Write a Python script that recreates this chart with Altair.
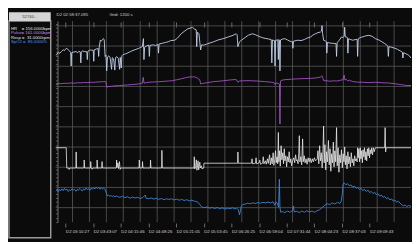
import altair as alt
import pandas as pd

# ---------------- data ----------------
START_SEC = 10717.095            # D2 02:58:37.095 (seconds of day)
START_LABEL = "D2 02:58:37.095"
GRID_LABEL = "Grid: 1200 s"
WINDOW_MIN = 420                 # 7 hour window, in minutes

tick_labels = ["03:10:27", "03:43:07", "04:15:46", "04:48:26", "05:21:05", "05:53:45",
               "06:26:25", "06:59:04", "07:31:44", "08:04:23", "08:37:03", "09:09:43"]
grid_minutes = list(range(20, 420, 20))   # grid every 1200 s
grid_rows = list(range(10))

panel_id = "52740..."
legend_names = ["HR", "Pulse", "Resp", "SpO2"]
legend_texts = ["HR\u00a0\u00a0\u00a0\u00a0=\u00a0156.0000bpm",
                "Pulse=\u00a0161.0000bpm",
                "Resp\u00a0=\u00a0\u00a031.0000rpm",
                "SpO2\u00a0=\u00a0\u00a086.0000%"]
legend_colors = ["#e4e4e4", "#c58af0", "#e4e4e4", "#4f94e6"]

# (minutes since start, bpm)
hr_points = [
    (0, 157.0), (1.2, 157.4), (3.5, 159.5), (5, 158.5), (6.9, 160.0), (9, 161.5), (10.5, 160.8),
    (12.6, 162.7), (14.5, 161.8), (16.5, 160.5), (17.8, 159.2), (18.4, 148.1), (19.0, 159.0),
    (21, 159.5), (24.1, 160.0), (26, 159.0), (27.5, 160.2), (29.2, 159.6), (29.8, 150.7),
    (30.4, 159.8), (32, 160.5), (33.7, 160.0), (36.9, 159.8), (37.5, 153.4), (38.1, 160.2),
    (40, 161.0), (41.3, 161.3), (44.5, 161.0), (45.1, 152.0), (45.7, 161.5), (48, 162.0),
    (50.3, 162.5), (50.9, 156.0), (51.5, 163.0), (52.8, 169.3), (54, 168.5), (55.5, 170.0),
    (56.6, 170.6), (57.5, 169.5), (58.5, 156.0), (59.5, 157.0), (60.4, 144.1), (61.3, 155.5),
    (63, 156.5), (64.5, 154.8), (66.2, 145.4), (67, 155.0), (68.5, 154.0), (70.0, 144.8),
    (70.8, 155.0), (72.5, 155.8), (74, 154.5), (75.7, 145.4), (76.4, 155.2), (77.6, 146.5),
    (78.3, 156.5), (79.6, 157.4), (83, 158.2), (87.2, 159.5), (90, 160.5), (94.9, 161.8),
    (98, 162.5), (100, 163.3), (102.5, 164.0), (103.8, 170.6), (104.4, 153.4), (105.2, 163.5),
    (107, 164.5), (110.2, 165.3), (110.8, 156.0), (111.5, 165.0), (115, 165.5), (118, 165.0),
    (121.0, 165.8), (121.6, 158.7), (122.3, 166.2), (126, 166.8), (130, 167.5), (133.1, 168.0),
    (136, 169.0), (140.8, 169.3), (144, 171.0), (148.4, 174.6), (152, 176.5), (156.1, 178.6),
    (159, 179.2), (161.8, 179.9), (163.7, 178.6), (166.2, 177.8), (166.8, 164.0), (167.5, 176.0),
    (169.4, 174.6), (170.8, 165.3), (171.4, 161.3), (172.5, 165.5), (175.2, 165.3), (180, 166.5),
    (186.7, 168.0), (192, 169.5), (198.1, 170.6), (204, 172.0), (209.6, 173.3), (213.4, 174.6),
    (214.5, 173.8), (215.4, 164.0), (217.3, 168.0), (220, 169.5), (224.9, 172.0), (228, 173.5),
    (232.6, 174.6), (236, 173.8), (240.2, 172.5), (245, 171.2), (251.7, 170.3), (254.8, 169.8),
    (255.5, 150.7), (256.3, 169.5), (258.7, 169.0), (259.3, 148.1), (260.0, 169.2), (262.6, 169.6),
    (263.2, 153.4), (263.9, 169.8), (264.6, 168.8), (265.1, 144.1), (265.8, 169.5), (268, 170.2),
    (270.8, 170.6), (274, 169.5), (278.5, 168.0), (279.8, 168.3), (280.4, 162.7), (281.1, 168.5),
    (286.1, 169.3), (290, 169.0), (293.8, 169.8), (297, 171.0), (301.4, 172.0), (304, 173.5),
    (307.1, 174.6), (310, 175.5), (312.9, 176.0), (314.2, 176.8), (314.8, 181.3), (315.5, 175.0),
    (316.7, 169.3), (318.5, 168.8), (320.0, 168.0), (320.5, 158.7), (321.2, 167.5), (324, 167.0),
    (328.2, 166.7), (331.4, 166.5), (332.0, 156.0), (332.7, 167.5), (335, 169.0), (337.8, 172.0),
    (339.5, 171.5), (341.0, 172.5), (341.6, 179.9), (342.3, 172.0), (343.5, 172.0), (344.8, 171.5),
    (345.4, 158.7), (346.1, 170.5), (348, 170.0), (351.1, 169.3), (354, 169.8), (356.3, 170.0),
    (356.9, 156.0), (357.6, 170.5), (360, 171.5), (362.6, 172.0), (366, 172.8), (370.3, 173.3),
    (374, 172.5), (377.9, 170.6), (382, 169.5), (385.6, 168.0), (389, 166.5), (392.6, 164.5),
    (393.2, 156.0), (393.9, 164.0), (397, 163.5), (400.9, 162.7), (404, 161.8), (408.5, 160.0),
    (409.8, 159.5), (410.4, 154.7), (411.1, 159.0), (413, 158.5), (416.2, 157.4), (418, 156.5),
    (420, 154.7),
]

# (minutes since start, bpm)
pulse_points = [
    (0, 163.4), (3, 163.8), (6.9, 163.6), (10, 164.0), (14, 163.9), (18.4, 164.2), (22, 164.0),
    (26, 164.4), (29.8, 164.3), (34, 164.6), (38, 164.5), (41.3, 164.8), (45, 164.7), (49, 165.0),
    (52.8, 165.1), (56.6, 165.3), (58.5, 165.4), (59.5, 165.0), (60.4, 160.8), (62, 161.2),
    (66.2, 161.5), (70, 161.8), (75.7, 162.1), (80, 162.3), (85, 162.6), (90, 162.9), (95, 163.2),
    (100, 163.6), (102.5, 164.0), (103.6, 168.8), (104.4, 164.2), (106, 164.3), (110.2, 164.8),
    (115, 165.0), (121.6, 165.2), (127, 165.5), (133.1, 165.8), (138, 166.1), (143, 166.8),
    (148.4, 167.6), (153, 168.4), (157, 169.0), (161.8, 169.3), (165, 169.1), (167.5, 168.2),
    (169.4, 167.4), (170.4, 166.8), (171.4, 163.4), (174, 163.9), (180, 164.5), (186.7, 165.3),
    (192, 165.6), (198.1, 166.0), (204, 166.5), (209.6, 166.9), (213.4, 167.0), (215.4, 164.8),
    (217.3, 165.8), (221, 166.0), (224.9, 166.1), (232.6, 166.0), (240.2, 165.7), (247, 165.3),
    (255.5, 164.8), (258, 164.5), (259.3, 163.0), (260.3, 164.2), (263.2, 163.8), (264.6, 163.4),
    (265.1, 130.5), (265.7, 165.8), (267.5, 166.5), (270.8, 166.9), (278.5, 167.3), (286.1, 167.6),
    (293.8, 167.8), (301.4, 168.0), (307.1, 168.3), (312.9, 169.0), (314.8, 170.1), (315.8, 168.5),
    (316.7, 166.1), (320.5, 166.0), (324, 165.6), (328.2, 166.0), (332, 165.8), (336, 166.4),
    (339.5, 166.8), (341.0, 170.6), (341.8, 166.6), (343.5, 167.2), (345.4, 165.7), (347, 166.5),
    (351.1, 165.3), (356.9, 164.9), (362.6, 164.8), (370.3, 164.5), (377.9, 164.8), (385.6, 164.4),
    (393.2, 164.2), (400.9, 163.6), (408.5, 162.8), (414, 162.2), (420, 162.1),
]

# (minutes since start, breaths/min)
resp_points = [
    (0, 32.0), (12.6, 32.0), (13.2, 21.9), (15.5, 21.9), (16.0, 21.2), (16.8, 21.9), (24.0, 21.9),
    (24.3, 29.9), (24.8, 21.9), (33.5, 21.9), (33.8, 25.9), (34.3, 21.9), (41.2, 21.9), (41.5, 25.1),
    (42.0, 21.9), (43.3, 21.3), (44.0, 21.9), (48.8, 21.9), (49.1, 25.9), (49.6, 21.6), (50.4, 21.9),
    (54.6, 21.9), (54.9, 25.1), (55.4, 21.9), (71.8, 21.9), (72.1, 25.9), (72.6, 22.2), (73.6, 24.5),
    (74.3, 21.6), (75.5, 25.1), (76.2, 21.2), (77.0, 21.9), (98.6, 21.9), (98.9, 25.9), (99.4, 21.9),
    (102.4, 21.9), (102.7, 25.1), (103.2, 21.9), (111.9, 21.9), (112.2, 25.9), (112.7, 21.9),
    (125.3, 21.9), (125.6, 30.7), (126.1, 21.9), (163.5, 21.9), (163.9, 27.5), (164.4, 21.4),
    (165.5, 22.5), (166.3, 26.0), (167.0, 20.8), (168.4, 25.5), (169.1, 21.0), (170.4, 24.8),
    (171.1, 21.9), (172.3, 23.0), (173.0, 21.5), (175.1, 21.9), (175.3, 24.3), (215.1, 24.3),
    (215.4, 29.9), (215.9, 24.3), (231.5, 24.3), (232.1, 26.5), (232.8, 24.0), (236.2, 24.3),
    (236.9, 27.0), (237.6, 24.0), (240.5, 24.5), (241.3, 25.8), (242.1, 23.8), (244.6, 24.3),
    (245.4, 27.5), (246.2, 24.0), (248.0, 25.5), (248.9, 23.8), (250.4, 26.5), (251.3, 24.2),
    (252.9, 28.5), (253.7, 23.5), (255.0, 27.0), (255.9, 24.0), (257.1, 29.5), (257.9, 23.2),
    (259.0, 26.0), (259.9, 30.5), (260.7, 24.5), (261.7, 27.5), (262.5, 24.0),
    (263.2, 39.6), (263.8, 25.0), (264.8, 30.5), (265.5, 22.8), (266.5, 33.0), (267.4, 26.0),
    (268.5, 29.5), (269.3, 24.0), (270.2, 31.5), (271.0, 25.5), (272.1, 28.0), (273.0, 22.5),
    (274.0, 27.5), (275.0, 25.0), (276.0, 30.0), (277.0, 24.5), (278.0, 26.5), (279.0, 23.0),
    (280.0, 25.5), (281.5, 27.0), (282.5, 24.5), (283.6, 28.5), (284.5, 25.5), (285.5, 26.0),
    (286.5, 24.0), (287.3, 29.0), (288.0, 38.0), (288.7, 25.0), (289.8, 27.5), (290.8, 23.5),
    (291.9, 36.4), (292.6, 25.0), (293.8, 28.0), (294.8, 24.5), (296.0, 26.5), (297.2, 23.8),
    (298.4, 27.0), (299.5, 25.0), (300.7, 26.8), (302.0, 24.5), (303.3, 26.5), (304.5, 25.0),
    (305.8, 27.0), (307.0, 25.5), (308.2, 26.0), (309.1, 26.2),
    (310.0, 30.5), (311.0, 24.0), (312.0, 33.0), (313.0, 25.5), (314.0, 29.5), (315.0, 22.0),
    (316.0, 31.0), (316.7, 42.8), (317.4, 24.5), (318.3, 33.5), (319.2, 21.0), (320.2, 30.0),
    (321.2, 25.0), (322.4, 35.6), (323.3, 23.5), (324.3, 31.5), (325.2, 20.3), (326.2, 29.0),
    (327.2, 24.5), (328.2, 34.8), (329.0, 22.5), (330.0, 30.5), (331.0, 25.0), (332.0, 42.0),
    (332.8, 23.0), (333.8, 32.0), (334.8, 19.8), (335.8, 28.5), (336.8, 24.5), (337.8, 31.0),
    (338.8, 22.0), (339.8, 29.0), (340.8, 25.0), (341.6, 32.4), (342.4, 23.5), (343.4, 28.0),
    (344.4, 21.5), (345.4, 30.0), (346.4, 24.0), (347.4, 27.5), (348.4, 22.5), (349.4, 29.5),
    (350.4, 24.5), (351.4, 26.5), (352.4, 23.0), (353.4, 28.0), (354.4, 25.5), (355.4, 26.5),
    (356.3, 25.0),
    (356.9, 32.0), (357.6, 27.0), (358.4, 31.5), (359.2, 25.0), (360.0, 32.0), (360.8, 26.5),
    (361.7, 30.5), (362.5, 24.5), (363.3, 31.0), (364.2, 27.5), (365.0, 32.0), (365.9, 26.0),
    (366.7, 30.0), (367.6, 25.5), (368.4, 31.5), (369.3, 28.0), (370.1, 32.0), (371.0, 27.0),
    (371.8, 31.0), (372.7, 29.0), (373.5, 32.0), (374.5, 28.5), (375.5, 32.0), (376.5, 30.0),
    (377.9, 32.0), (388.8, 32.0), (389.4, 42.0), (390.0, 29.9), (390.6, 32.0), (420, 32.0),
]

# (minutes since start, %)
spo2_points = [
    (0, 89.6), (1.5, 90.0), (3, 89.4), (4.5, 90.2), (6, 89.7), (7.5, 90.4), (9, 89.8), (10.5, 90.6),
    (12, 90.0), (13.5, 90.3), (15, 89.5), (16.5, 90.1), (18, 89.8), (19.5, 90.5), (21, 90.0),
    (22.5, 90.3), (24, 89.6), (25.5, 90.2), (27, 89.9), (28.5, 90.6), (30, 90.1), (31.5, 89.7),
    (33, 90.4), (34.5, 90.0), (36, 90.7), (37.5, 90.2), (39, 90.5), (40.5, 89.9), (42, 90.6),
    (43.5, 90.3), (45, 90.8), (46.5, 90.4), (48, 91.0), (49.5, 90.5), (51, 90.9), (52.5, 90.3),
    (54, 90.8), (55.5, 90.4), (57, 90.6), (58.5, 90.2), (60.0, 89.0), (61, 88.0), (62.5, 88.3),
    (64, 87.8), (65.5, 88.2), (67, 87.7), (68.5, 88.1), (70, 87.6), (71.5, 88.0), (73, 87.8),
    (76, 87.5), (79, 87.9), (82, 87.4), (85, 87.7), (88, 87.2), (91, 87.6), (94, 87.3), (97, 87.5),
    (100, 87.1), (103, 87.4), (106, 88.3), (107, 87.2), (110, 87.0), (113, 87.3), (116, 86.9),
    (119, 87.2), (122, 86.8), (125, 87.1), (128, 86.7), (131, 87.0), (134, 86.8), (137, 87.0),
    (140, 86.6), (143, 86.9), (146, 86.5), (149, 86.8), (152, 86.4), (155, 86.7), (158, 86.3),
    (161, 86.5), (164, 86.2), (167, 86.0), (169, 85.6), (171, 84.8), (173, 84.1), (176, 84.0),
    (179, 84.2), (182, 83.8), (185, 84.0), (188, 83.7), (191, 84.0), (194, 83.6), (197, 83.9),
    (200, 83.5), (203, 83.8), (206, 83.6), (209, 83.9), (212, 83.5), (214, 83.8), (216, 83.2),
    (217.3, 81.5), (218.3, 82.8), (219.5, 84.5), (221, 85.0), (224, 85.2), (227, 85.5), (230, 85.3),
    (233, 85.6), (236, 85.4), (239, 85.7), (242, 85.5), (245, 85.8), (248, 85.6), (251, 85.9),
    (254, 85.6), (257, 86.0), (259, 84.8), (260.5, 85.9), (262, 85.5), (263.5, 84.2), (264.4, 93.7),
    (265.1, 84.0), (266, 82.4), (268, 82.6), (271, 82.3), (274, 82.8), (277, 82.4), (280, 82.9),
    (281, 84.5), (282, 82.5), (285, 82.7), (288, 82.3), (291, 82.8), (294, 82.4), (297, 82.9),
    (300, 82.5), (303, 82.8), (306, 82.4), (309, 82.9), (312, 83.3), (315, 84.0), (318, 84.8),
    (321, 85.3), (324, 85.0), (327, 85.6), (330, 85.2), (333, 85.8), (336, 85.4), (337.5, 86.2),
    (338.8, 88.5), (339.7, 92.0), (341, 92.5), (343, 91.8), (345, 92.2), (347, 91.5), (349, 91.8),
    (351, 91.0), (353, 91.4), (355, 90.6), (357, 91.0), (359, 90.2), (361, 90.6), (363, 89.8),
    (365, 90.3), (367, 89.5), (369, 90.0), (371, 89.2), (373, 89.5), (375, 88.8), (377, 89.2),
    (379, 88.4), (381, 88.8), (383, 87.9), (385, 88.3), (387, 87.5), (389, 87.8), (391, 87.0),
    (393, 87.4), (395, 86.6), (397, 87.0), (399, 86.2), (401, 86.6), (403, 85.8), (405, 86.2),
    (407, 85.5), (409, 85.0), (411, 84.6), (413, 84.9), (415, 84.3), (417, 84.7), (420, 84.4),
]

# ---------------- chart ----------------
def to_minutes(hms):
    h, m, s = (int(p) for p in hms.split(":"))
    return (h * 3600 + m * 60 + s - START_SEC) / 60.0

tick_minutes = [to_minutes(s) for s in tick_labels]

FONT = "Liberation Sans"
TXT = "#d2d2d2"
GRID = "#5a5a5a"
BG = "#0b0b0b"
FS = 4.4
TITLE_OFFSET = 3
HEADER_H = 9

PW, PH = 366, 207
LW, LH = 43, 223

xs = alt.Scale(domain=[0, WINDOW_MIN], nice=False, zero=False)

def df(points):
    return pd.DataFrame(points, columns=["t", "v"])

label_expr = f"'D2 ' + utcFormat(round(datum.value * 60 + {START_SEC}) * 1000, '%H:%M:%S')"

hgrid = alt.Chart(pd.DataFrame({"r": grid_rows})).mark_rule(color=GRID, strokeWidth=0.8).encode(
    y=alt.Y("r:Q", scale=alt.Scale(domain=[-0.716, 9.236], nice=False, zero=False),
            axis=alt.Axis(orient="left", values=[round(-0.7 + 0.2 * i, 2) for i in range(50)],
                          labels=False, ticks=True, tickSize=2, tickColor="#8a8a8a", tickWidth=0.6,
                          domain=True, domainColor="#8a8a8a", domainWidth=0.8, grid=False,
                          offset=-2, title=None))
)

vgrid = alt.Chart(pd.DataFrame({"t": grid_minutes})).mark_rule(color=GRID, strokeWidth=0.8).encode(
    x=alt.X("t:Q", scale=xs,
            axis=alt.Axis(orient="bottom", values=tick_minutes, labelExpr=label_expr, grid=False,
                          domain=False, ticks=True, tickSize=4, tickColor="#9a9a9a", tickWidth=0.7,
                          offset=1, labelFont=FONT, labelFontSize=FS, labelColor=TXT,
                          labelAlign="left", labelPadding=3, labelOverlap=False, labelFlush=False,
                          title=None))
)

def trace(points, domain, color, width=0.9, top_axis=False):
    if top_axis:
        xax = alt.Axis(orient="top", values=tick_minutes, labels=False, ticks=True, tickSize=5,
                       tickColor="#9a9a9a", tickWidth=0.7, domain=False, grid=False, offset=-6,
                       title=None)
    else:
        xax = None
    return alt.Chart(df(points)).mark_line(color=color, strokeWidth=width, clip=True).encode(
        x=alt.X("t:Q", scale=xs, axis=xax),
        y=alt.Y("v:Q", scale=alt.Scale(domain=domain, nice=False, zero=False), axis=None),
    )

hr = trace(hr_points, [20, 185], "#c4d4ee", 0.9, top_axis=True)
pulse = trace(pulse_points, [50, 215], "#a553ca", 0.9)
resp = trace(resp_points, [-5, 95], "#ededed", 0.8)
spo2 = trace(spo2_points, [79, 148], "#3f86d6", 0.9)

right = alt.layer(hgrid, vgrid, hr, pulse, resp, spo2).resolve_scale(
    y="independent"
).resolve_axis(
    x="independent", y="independent"
).properties(
    width=PW, height=PH,
    title=alt.TitleParams(text=START_LABEL + "\u00a0" * 18 + GRID_LABEL, anchor="start",
                          frame="group", font=FONT, fontSize=FS, fontWeight="normal",
                          color=TXT, offset=TITLE_OFFSET, dx=1),
)

# left information panel: light id box on the header row, then the value readouts
id_bg = alt.Chart(pd.DataFrame({"id": [panel_id]})).mark_rect(color="#d4d4d4").encode(
    x=alt.value(0), x2=alt.value(LW), y=alt.value(-HEADER_H), y2=alt.value(0)
)
id_txt = alt.Chart(pd.DataFrame({"id": [panel_id]})).mark_text(
    color="#3c3c3c", font=FONT, fontSize=FS, baseline="middle", align="center"
).encode(text="id:N", x=alt.value(LW / 2), y=alt.value(-HEADER_H / 2))
legend = alt.Chart(pd.DataFrame({"name": legend_names, "label": legend_texts})).mark_text(
    align="left", baseline="middle", font=FONT, fontSize=FS, clip=True
).encode(
    x=alt.value(2),
    y=alt.Y("name:N", scale=alt.Scale(type="point", domain=legend_names, range=[5.7, 23.7]),
            axis=None),
    text="label:N",
    color=alt.Color("name:N", scale=alt.Scale(domain=legend_names, range=legend_colors),
                    legend=None),
)
left = alt.layer(id_bg, id_txt, legend).properties(
    width=LW, height=LH,
    view=alt.ViewBackground(stroke="#9a9a9a", strokeWidth=1.5, fill=BG),
)

chart = alt.hconcat(left, right, spacing=3).properties(
    padding=0, background=BG
).configure_view(strokeWidth=0)

chart.save("out.html", embed_options={"renderer": "svg", "actions": False})
